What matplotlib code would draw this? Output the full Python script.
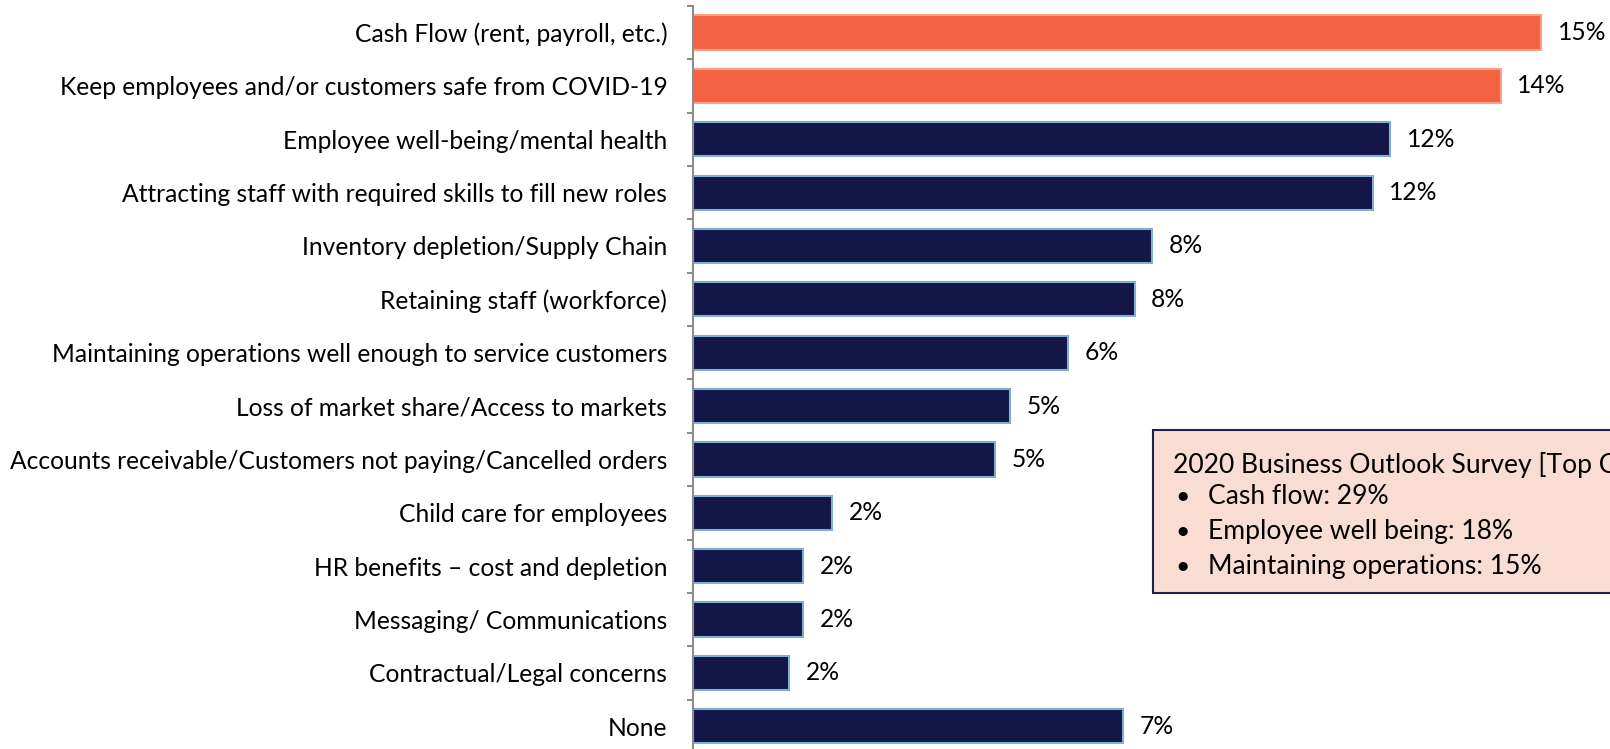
import matplotlib
matplotlib.use("Agg")
import matplotlib.pyplot as plt
from matplotlib.patches import Rectangle

W, H = 1610, 749

categories = [
    "Cash Flow (rent, payroll, etc.)",
    "Keep employees and/or customers safe from COVID-19",
    "Employee well-being/mental health",
    "Attracting staff with required skills to fill new roles",
    "Inventory depletion/Supply Chain",
    "Retaining staff (workforce)",
    "Maintaining operations well enough to service customers",
    "Loss of market share/Access to markets",
    "Accounts receivable/Customers not paying/Cancelled orders",
    "Child care for employees",
    "HR benefits \u2013 cost and depletion",
    "Messaging/ Communications",
    "Contractual/Legal concerns",
    "None",
]
values = [14.6, 13.9, 12.0, 11.7, 7.9, 7.6, 6.45, 5.45, 5.2, 2.4, 1.9, 1.9, 1.65, 7.4]
value_labels = ["15%", "14%", "12%", "12%", "8%", "8%", "6%", "5%", "5%",
                "2%", "2%", "2%", "2%", "7%"]
highlight = [True, True] + [False] * 12

box_title = "2020 Business Outlook Survey [Top Concerns]"
box_items = ["Cash flow: 29%", "Employee well being: 18%", "Maintaining operations: 15%"]

ORANGE = "#F26240"
NAVY = "#141647"
EDGE = "#7FB0D2"

plt.rcParams['font.family'] = ['Lato', 'DejaVu Sans']
FS = 17.7
BOX_FS = 19.1

fig = plt.figure(figsize=(W / 100, H / 100), dpi=100)

ax_left, ax_top, ax_bottom = 693, 5.8, 753
ax = fig.add_axes([ax_left / W, (H - ax_bottom) / H, (W - ax_left) / W, (ax_bottom - ax_top) / H])

y = list(range(len(categories)))
colors = [ORANGE if h else NAVY for h in highlight]
edges = ["#F8A08A" if h else EDGE for h in highlight]
ax.barh(y, values, height=0.64, color=colors, edgecolor=edges, linewidth=1.5)

for yi, v, lab in zip(y, values, value_labels):
    ax.annotate(lab, (v, yi), xytext=(12, 0), textcoords="offset points",
                va="center", ha="left", fontsize=FS, color="black")

ax.set_ylim(len(categories) - 0.5, -0.5)
ax.set_xlim(0, (W - ax_left) / 58.1)
ax.set_yticks(y)
ax.set_yticklabels(categories, fontsize=FS)
ax.tick_params(axis="y", which="major", length=0, pad=18.5)
ax.set_yticks([i + 0.5 for i in range(-1, len(categories))], minor=True)
ax.tick_params(axis="y", which="minor", length=4, width=1.5, color="#8C8C8C")
ax.set_xticks([])
for s in ["top", "right", "bottom"]:
    ax.spines[s].set_visible(False)
ax.spines["left"].set_color("#8C8C8C")
ax.spines["left"].set_linewidth(1.5)

# annotation box with the 2020 survey (runs off the right edge, as in the source slide)
bx, by = 1153, 430
box = Rectangle((bx / W, 1 - 593 / H), (W + 50 - bx) / W, (593 - by) / H,
                transform=fig.transFigure, facecolor="#F9DDD3", edgecolor="#1F2050",
                linewidth=1.5, clip_on=False)
fig.patches.append(box)
fig.text(1173 / W, 1 - 473 / H, box_title, fontsize=BOX_FS, va="baseline", ha="left")
for i, item in enumerate(box_items):
    yb = 1 - (504 + i * 35) / H
    fig.text(1175 / W, yb, "\u2022", fontsize=FS, va="baseline", ha="left")
    fig.text(1208 / W, yb, item, fontsize=BOX_FS, va="baseline", ha="left")

fig.savefig("out.png", dpi=100)
